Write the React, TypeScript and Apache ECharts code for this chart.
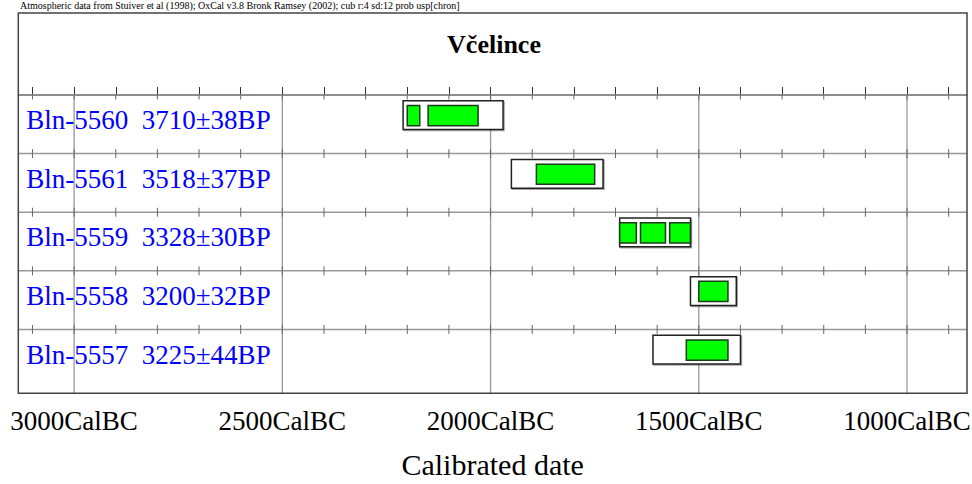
import React, { useEffect, useRef } from "react";
import * as echarts from "echarts";

// ---- data (years are cal BC) ----
const sampleIds = ["Bln-5560", "Bln-5561", "Bln-5559", "Bln-5558", "Bln-5557"];
const bpDates = ["3710±38BP", "3518±37BP", "3328±30BP", "3200±32BP", "3225±44BP"];
// 95.4% range (outer box)
const outerFrom = [2210, 1950, 1690, 1520, 1610];
const outerTo = [1970, 1730, 1520, 1410, 1400];
// 68.2% ranges (green boxes): [from, to, row]
const innerRanges: number[][] = [
  [2200, 2170, 0],
  [2150, 2030, 0],
  [1890, 1750, 1],
  [1690, 1650, 2],
  [1640, 1580, 2],
  [1570, 1520, 2],
  [1500, 1430, 3],
  [1530, 1430, 4],
];
const majorYears = [3000, 2500, 2000, 1500, 1000];
const tickYears = [3100, 3000, 2900, 2800, 2700, 2600, 2500, 2400, 2300, 2200, 2100, 2000, 1900, 1800, 1700, 1600, 1500, 1400, 1300, 1200, 1100, 1000, 900];
const rowIndex = [0, 1, 2, 3, 4];

const title = "Včelince";
const header = "Atmospheric data from Stuiver et al (1998); OxCal v3.8 Bronk Ramsey (2002); cub r:4 sd:12 prob usp[chron]";
const xName = "Calibrated date";

const SERIF = '"Liberation Serif", "Times New Roman", serif';
const ROWS_MAX = 5.09;

export default function App() {
  const ref = useRef<HTMLDivElement>(null);
  useEffect(() => {
    if (!ref.current) return;
    const chart = echarts.init(ref.current, null, { renderer: "svg" });
    const nRows = sampleIds.length;

    const option: any = {
      animation: false,
      grid: { left: 18.3, right: 5, top: 95, bottom: 90.7, containLabel: false, outerBoundsMode: "none" },
      xAxis: {
        type: "value",
        inverse: true,
        min: 856,
        max: 3134,
        name: xName,
        nameLocation: "middle",
        nameGap: 56,
        nameTextStyle: { fontFamily: SERIF, fontSize: 30, color: "#000" },
        axisLine: { show: true, lineStyle: { color: "#444", width: 1.5 } },
        axisTick: { show: true, inside: true, length: 8, customValues: tickYears, lineStyle: { color: "#333", width: 1 } },
        axisLabel: {
          show: true,
          customValues: majorYears,
          margin: 14,
          formatter: (v: number) => `${v}CalBC`,
          fontFamily: SERIF,
          fontSize: 27,
          color: "#000",
          hideOverlap: false,
        },
        splitLine: { show: false },
      },
      yAxis: {
        type: "value",
        inverse: true,
        min: 0,
        max: ROWS_MAX,
        show: false,
        splitLine: { show: false },
      },
      graphic: [
        {
          type: "rect",
          shape: { x: 18.3, y: 13, width: 948.7, height: 380.3 },
          style: { fill: "none", stroke: "#444", lineWidth: 1.5 },
          z: 100,
        },
        {
          type: "text",
          x: 20,
          y: 0,
          style: { text: header, font: `10px ${SERIF}`, fill: "#000", textAlign: "left", textVerticalAlign: "top" },
        },
        {
          type: "text",
          x: 494,
          y: 44,
          style: { text: title, font: `bold 26px ${SERIF}`, fill: "#000", textAlign: "center", textVerticalAlign: "middle" },
        },
      ],
      series: [
        {
          type: "custom",
          name: "major",
          silent: true,
          data: majorYears.map((y) => [y, 0]),
          encode: { x: 0, y: 1 },
          renderItem: (params: any, api: any) => {
            const p0 = api.coord([api.value(0), 0]);
            const p1 = api.coord([api.value(0), ROWS_MAX]);
            return { type: "line", shape: { x1: p0[0], y1: p0[1], x2: p1[0], y2: p1[1] }, style: { stroke: "#999", lineWidth: 1.3 } };
          },
        },
        {
          type: "custom",
          name: "rows",
          silent: true,
          data: rowIndex.map((r) => [3134, r]),
          encode: { x: 0, y: 1 },
          renderItem: (params: any, api: any) => {
            const cs = params.coordSys;
            const y = api.coord([1000, api.value(1)])[1];
            return { type: "line", shape: { x1: cs.x, y1: y, x2: cs.x + cs.width, y2: y }, style: { stroke: "#999", lineWidth: 1.5 } };
          },
        },
        {
          type: "custom",
          name: "ticks",
          silent: true,
          data: tickYears.map((y) => [y, 0]),
          encode: { x: 0, y: 1 },
          renderItem: (params: any, api: any) => {
            const children: any[] = [];
            for (let r = 0; r < nRows; r++) {
              const top = api.coord([api.value(0), r]);
              children.push({ type: "line", shape: { x1: top[0], y1: top[1], x2: top[0], y2: top[1] + 4.5 }, style: { stroke: "#666", lineWidth: 1 } });
              if (r > 0) {
                children.push({ type: "line", shape: { x1: top[0], y1: top[1] - 4.5, x2: top[0], y2: top[1] }, style: { stroke: "#666", lineWidth: 1 } });
              }
            }
            return { type: "group", children };
          },
        },
        {
          type: "custom",
          name: "95.4%",
          data: outerFrom.map((f, i) => [f, outerTo[i], i]),
          encode: { x: [0, 1], y: 2 },
          renderItem: (params: any, api: any) => {
            const a = api.coord([api.value(0), api.value(2) + 0.1]);
            const b = api.coord([api.value(1), api.value(2) + 0.59]);
            return {
              type: "rect",
              shape: { x: Math.min(a[0], b[0]), y: a[1], width: Math.abs(b[0] - a[0]), height: b[1] - a[1] },
              style: { fill: "#fff", stroke: "#222", lineWidth: 1.5, shadowColor: "rgba(0,0,0,0.35)", shadowOffsetX: 1, shadowOffsetY: 1 },
            };
          },
        },
        {
          type: "custom",
          name: "68.2%",
          data: innerRanges,
          encode: { x: [0, 1], y: 2 },
          renderItem: (params: any, api: any) => {
            const a = api.coord([api.value(0), api.value(2) + 0.18]);
            const b = api.coord([api.value(1), api.value(2) + 0.525]);
            return {
              type: "rect",
              shape: { x: Math.min(a[0], b[0]), y: a[1], width: Math.abs(b[0] - a[0]), height: b[1] - a[1] },
              style: { fill: "#00ff00", stroke: "#1c3a1c", lineWidth: 1.5 },
            };
          },
        },
        {
          type: "custom",
          name: "labels",
          silent: true,
          data: sampleIds.map((s, i) => [3134, i]),
          encode: { x: 0, y: 1 },
          renderItem: (params: any, api: any) => {
            const i = params.dataIndex;
            const cs = params.coordSys;
            const y = api.coord([1000, api.value(1) + 0.43])[1];
            return {
              type: "text",
              x: cs.x + 8,
              y,
              style: {
                text: `${sampleIds[i]}  ${bpDates[i]}`,
                font: `27px ${SERIF}`,
                fill: "#0000ff",
                textAlign: "left",
                textVerticalAlign: "middle",
              },
            };
          },
        },
      ],
    };
    chart.setOption(option);
    return () => chart.dispose();
  }, []);
  return <div ref={ref} style={{ position: "fixed", left: 0, top: 0, width: 972, height: 484, background: "#fff" }} />;
}
